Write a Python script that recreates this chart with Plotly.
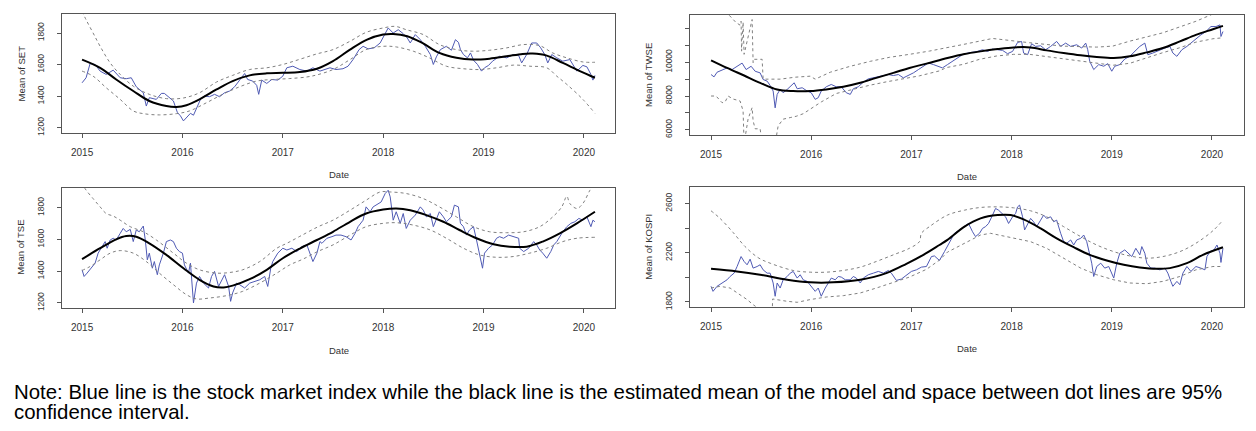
import plotly.graph_objects as go

# ---------------- data (decimal year, value) ----------------
set_index = [(2015.00,1485),(2015.04,1517),(2015.08,1607),(2015.13,1601),(2015.18,1559),(2015.24,1538),(2015.31,1565),(2015.38,1517),(2015.44,1511),(2015.49,1517),(2015.54,1460),(2015.61,1422),(2015.64,1338),(2015.67,1391),(2015.74,1380),(2015.79,1418),(2015.82,1418),(2015.87,1391),(2015.91,1370),(2015.95,1297),(2015.98,1276),(2016.01,1244),(2016.05,1271),(2016.08,1292),(2016.11,1280),(2016.15,1338),(2016.18,1380),(2016.22,1401),(2016.27,1397),(2016.32,1412),(2016.37,1397),(2016.42,1422),(2016.47,1433),(2016.52,1460),(2016.57,1502),(2016.62,1544),(2016.65,1506),(2016.70,1496),(2016.74,1469),(2016.76,1412),(2016.79,1502),(2016.84,1481),(2016.89,1506),(2016.95,1502),(2017.00,1527),(2017.04,1580),(2017.10,1590),(2017.17,1569),(2017.24,1559),(2017.30,1580),(2017.37,1559),(2017.40,1565),(2017.47,1580),(2017.53,1569),(2017.60,1574),(2017.65,1590),(2017.70,1632),(2017.76,1695),(2017.80,1716),(2017.85,1700),(2017.91,1706),(2017.97,1737),(2018.02,1800),(2018.05,1832),(2018.10,1800),(2018.15,1821),(2018.20,1796),(2018.24,1769),(2018.27,1737),(2018.32,1790),(2018.37,1758),(2018.42,1716),(2018.47,1664),(2018.50,1601),(2018.53,1649),(2018.57,1695),(2018.63,1716),(2018.68,1691),(2018.72,1758),(2018.75,1741),(2018.77,1695),(2018.80,1664),(2018.84,1643),(2018.87,1674),(2018.90,1628),(2018.94,1601),(2018.98,1559),(2019.01,1580),(2019.05,1595),(2019.09,1622),(2019.16,1653),(2019.23,1643),(2019.30,1664),(2019.35,1658),(2019.38,1611),(2019.43,1664),(2019.48,1737),(2019.53,1737),(2019.57,1706),(2019.61,1664),(2019.64,1611),(2019.68,1664),(2019.73,1643),(2019.79,1622),(2019.86,1632),(2019.93,1559),(2019.99,1595),(2020.03,1586),(2020.07,1538),(2020.09,1502),(2020.11,1532)]
set_mean = [(2015.00,1632),(2015.18,1580),(2015.34,1506),(2015.51,1433),(2015.67,1370),(2015.84,1338),(2015.94,1332),(2016.04,1343),(2016.17,1380),(2016.34,1443),(2016.50,1496),(2016.67,1532),(2016.84,1545),(2017.00,1548),(2017.17,1553),(2017.34,1574),(2017.50,1622),(2017.67,1695),(2017.84,1758),(2018.00,1790),(2018.10,1794),(2018.24,1780),(2018.39,1737),(2018.56,1674),(2018.73,1643),(2018.89,1632),(2019.06,1638),(2019.23,1653),(2019.39,1668),(2019.49,1670),(2019.63,1657),(2019.79,1611),(2019.96,1559),(2020.11,1517)]
set_upper = [(2015.00,1937),(2015.04,1884),(2015.11,1800),(2015.18,1716),(2015.28,1611),(2015.38,1538),(2015.51,1464),(2015.67,1412),(2015.84,1385),(2016.01,1389),(2016.17,1422),(2016.34,1490),(2016.50,1532),(2016.67,1569),(2016.84,1580),(2017.00,1601),(2017.17,1634),(2017.34,1668),(2017.50,1695),(2017.67,1748),(2017.83,1804),(2018.00,1832),(2018.12,1842),(2018.23,1821),(2018.40,1790),(2018.56,1727),(2018.73,1695),(2018.89,1685),(2019.06,1691),(2019.23,1706),(2019.40,1727),(2019.56,1720),(2019.69,1674),(2019.83,1643),(2019.99,1617),(2020.11,1615)]
set_lower = [(2015.00,1559),(2015.11,1527),(2015.24,1454),(2015.38,1380),(2015.51,1307),(2015.61,1290),(2015.77,1282),(2015.94,1290),(2016.07,1307),(2016.24,1359),(2016.40,1412),(2016.57,1460),(2016.74,1496),(2016.90,1506),(2017.07,1512),(2017.24,1522),(2017.34,1535),(2017.50,1569),(2017.67,1632),(2017.83,1695),(2018.00,1716),(2018.13,1712),(2018.30,1685),(2018.46,1643),(2018.63,1590),(2018.80,1574),(2018.96,1569),(2019.13,1580),(2019.30,1597),(2019.46,1590),(2019.63,1580),(2019.73,1527),(2019.83,1475),(2019.99,1380),(2020.11,1292)]

twse_index = [(2015.00,9273),(2015.03,9136),(2015.06,9410),(2015.11,9528),(2015.16,9665),(2015.21,9567),(2015.26,9763),(2015.31,9950),(2015.35,9567),(2015.40,9763),(2015.44,9469),(2015.49,9371),(2015.52,8979),(2015.56,8881),(2015.59,8626),(2015.62,8293),(2015.64,7300),(2015.66,8097),(2015.69,8391),(2015.72,8195),(2015.76,8391),(2015.80,8626),(2015.83,8783),(2015.86,8430),(2015.91,8489),(2015.96,8293),(2016.00,8195),(2016.04,7803),(2016.07,7901),(2016.10,8293),(2016.15,8548),(2016.20,8685),(2016.25,8548),(2016.30,8548),(2016.35,8195),(2016.39,8097),(2016.42,8430),(2016.47,8548),(2016.52,8822),(2016.57,9018),(2016.62,9077),(2016.67,9136),(2016.72,9175),(2016.77,9273),(2016.82,9214),(2016.87,9273),(2016.92,9077),(2016.97,9214),(2017.02,9371),(2017.07,9567),(2017.12,9763),(2017.17,9959),(2017.22,9861),(2017.27,9763),(2017.31,9665),(2017.36,9861),(2017.41,10057),(2017.46,10253),(2017.51,10449),(2017.56,10547),(2017.61,10586),(2017.66,10645),(2017.71,10743),(2017.76,10645),(2017.81,10782),(2017.86,10743),(2017.91,10704),(2017.96,10508),(2018.01,10645),(2018.06,11174),(2018.10,11233),(2018.12,10547),(2018.16,10449),(2018.20,11096),(2018.24,10939),(2018.29,10978),(2018.34,10743),(2018.39,10939),(2018.45,11233),(2018.49,10939),(2018.54,11135),(2018.59,10939),(2018.65,11037),(2018.70,10841),(2018.74,11135),(2018.76,10743),(2018.78,10057),(2018.82,9567),(2018.87,9861),(2018.92,9763),(2018.96,9920),(2019.00,9469),(2019.03,9763),(2019.08,9861),(2019.13,10194),(2019.18,10351),(2019.23,10645),(2019.28,10939),(2019.33,11135),(2019.36,10449),(2019.41,10547),(2019.48,10743),(2019.53,10841),(2019.58,10939),(2019.61,10547),(2019.65,10351),(2019.70,10743),(2019.75,10939),(2019.79,11135),(2019.84,11429),(2019.89,11625),(2019.94,11821),(2019.99,12115),(2020.04,12115),(2020.08,12213),(2020.09,11527),(2020.11,11821)]
twse_mean = [(2015.00,10116),(2015.16,9665),(2015.33,9214),(2015.49,8783),(2015.66,8391),(2015.82,8293),(2015.99,8293),(2016.15,8391),(2016.32,8548),(2016.49,8783),(2016.65,9077),(2016.82,9371),(2016.98,9665),(2017.15,9920),(2017.36,10253),(2017.53,10488),(2017.69,10645),(2017.86,10782),(2018.02,10880),(2018.19,10880),(2018.35,10704),(2018.52,10547),(2018.69,10410),(2018.85,10312),(2019.02,10253),(2019.18,10351),(2019.35,10586),(2019.51,10841),(2019.68,11233),(2019.84,11625),(2020.01,11958),(2020.11,12154)]
twse_upper = [(2015.10,13300),(2015.25,12350),(2015.29,12200),(2015.30,12430),(2015.305,10660),(2015.32,12370),(2015.33,10470),(2015.41,12530),(2015.42,9980),(2015.43,10175),(2015.51,10175),(2015.52,9000),(2015.69,9000),(2015.84,9116),(2015.99,9175),(2016.04,9000),(2016.19,9410),(2016.39,9763),(2016.59,10057),(2016.78,10292),(2016.98,10469),(2017.18,10663),(2017.52,11057),(2017.81,11410),(2018.18,11157),(2018.51,10957),(2018.85,10898),(2019.01,10957),(2019.18,11251),(2019.51,11745),(2019.84,12427),(2020.01,12821),(2020.11,13115)]
twse_lower = [(2015.00,8000),(2015.05,8000),(2015.11,7605),(2015.14,7646),(2015.17,8000),(2015.22,7823),(2015.29,7705),(2015.32,7117),(2015.33,5176),(2015.37,6647),(2015.41,7311),(2015.42,6529),(2015.44,6059),(2015.49,6059),(2015.51,5176),(2015.64,5176),(2015.67,6235),(2015.72,6629),(2015.79,6723),(2015.85,6800),(2015.92,6950),(2016.00,7250),(2016.05,7420),(2016.10,7650),(2016.25,8150),(2016.42,8411),(2016.59,8646),(2016.75,8840),(2016.92,9000),(2017.08,9195),(2017.28,9489),(2017.35,9686),(2017.52,9880),(2017.68,10175),(2017.85,10371),(2018.02,10469),(2018.18,10469),(2018.35,10333),(2018.51,10214),(2018.68,10076),(2018.85,9939),(2019.01,9821),(2019.18,9939),(2019.35,10274),(2019.51,10569),(2019.68,10863),(2019.84,11192),(2020.01,11392),(2020.11,11451)]

tse_index = [(2015.00,1409),(2015.02,1367),(2015.05,1388),(2015.09,1419),(2015.13,1451),(2015.16,1514),(2015.19,1545),(2015.23,1587),(2015.25,1545),(2015.28,1597),(2015.31,1608),(2015.34,1597),(2015.38,1639),(2015.41,1670),(2015.44,1649),(2015.48,1664),(2015.51,1587),(2015.54,1660),(2015.57,1649),(2015.61,1685),(2015.63,1597),(2015.65,1472),(2015.67,1514),(2015.70,1419),(2015.72,1461),(2015.75,1378),(2015.77,1440),(2015.81,1514),(2015.84,1587),(2015.88,1597),(2015.91,1587),(2015.94,1545),(2015.97,1524),(2016.00,1514),(2016.02,1440),(2016.06,1388),(2016.08,1451),(2016.11,1200),(2016.14,1325),(2016.17,1367),(2016.21,1325),(2016.26,1294),(2016.29,1367),(2016.32,1399),(2016.36,1304),(2016.39,1346),(2016.42,1378),(2016.46,1304),(2016.48,1210),(2016.50,1263),(2016.54,1325),(2016.57,1315),(2016.62,1294),(2016.67,1325),(2016.72,1336),(2016.77,1346),(2016.82,1367),(2016.85,1304),(2016.88,1419),(2016.90,1461),(2016.95,1514),(2017.00,1545),(2017.04,1534),(2017.09,1545),(2017.14,1524),(2017.19,1555),(2017.24,1566),(2017.28,1493),(2017.30,1461),(2017.34,1514),(2017.37,1587),(2017.39,1576),(2017.44,1608),(2017.49,1618),(2017.53,1628),(2017.58,1628),(2017.63,1618),(2017.68,1597),(2017.72,1639),(2017.75,1681),(2017.80,1722),(2017.83,1806),(2017.87,1775),(2017.90,1806),(2017.95,1827),(2017.98,1837),(2018.02,1890),(2018.05,1911),(2018.07,1869),(2018.10,1722),(2018.13,1775),(2018.17,1702),(2018.20,1764),(2018.23,1670),(2018.27,1722),(2018.32,1754),(2018.37,1806),(2018.40,1785),(2018.43,1743),(2018.47,1764),(2018.50,1681),(2018.53,1733),(2018.56,1775),(2018.60,1743),(2018.63,1712),(2018.68,1743),(2018.71,1817),(2018.75,1806),(2018.77,1702),(2018.80,1681),(2018.83,1628),(2018.86,1660),(2018.90,1681),(2018.93,1597),(2018.96,1503),(2018.99,1419),(2019.01,1514),(2019.05,1545),(2019.09,1566),(2019.13,1608),(2019.16,1618),(2019.20,1608),(2019.25,1628),(2019.30,1618),(2019.35,1608),(2019.36,1545),(2019.40,1524),(2019.45,1545),(2019.50,1587),(2019.53,1566),(2019.56,1534),(2019.59,1514),(2019.63,1482),(2019.67,1524),(2019.70,1566),(2019.73,1587),(2019.76,1618),(2019.79,1649),(2019.83,1681),(2019.87,1702),(2019.91,1712),(2019.95,1733),(2019.99,1722),(2020.03,1743),(2020.07,1681),(2020.09,1722),(2020.11,1712)]
tse_mean = [(2015.00,1476),(2015.18,1545),(2015.34,1601),(2015.44,1622),(2015.54,1618),(2015.67,1576),(2015.84,1503),(2016.01,1419),(2016.17,1346),(2016.31,1304),(2016.41,1298),(2016.50,1309),(2016.67,1350),(2016.84,1409),(2017.00,1482),(2017.17,1543),(2017.34,1597),(2017.50,1649),(2017.67,1712),(2017.83,1764),(2018.00,1789),(2018.13,1796),(2018.27,1785),(2018.43,1754),(2018.60,1712),(2018.76,1660),(2018.93,1608),(2019.10,1570),(2019.26,1555),(2019.43,1555),(2019.59,1587),(2019.76,1639),(2019.93,1702),(2020.11,1775)]
tse_upper = [(2015.00,1960),(2015.03,1921),(2015.11,1858),(2015.18,1806),(2015.24,1764),(2015.31,1748),(2015.38,1722),(2015.48,1681),(2015.61,1649),(2015.74,1597),(2015.91,1514),(2016.04,1451),(2016.17,1409),(2016.34,1388),(2016.47,1392),(2016.60,1409),(2016.77,1461),(2016.94,1545),(2017.04,1576),(2017.17,1620),(2017.35,1680),(2017.50,1722),(2017.67,1785),(2017.83,1848),(2017.97,1900),(2018.07,1900),(2018.23,1890),(2018.40,1858),(2018.56,1806),(2018.73,1743),(2018.90,1681),(2019.06,1649),(2019.23,1643),(2019.40,1649),(2019.56,1681),(2019.69,1743),(2019.78,1806),(2019.83,1873),(2019.86,1827),(2019.93,1796),(2019.99,1827),(2020.06,1911),(2020.11,1960)]
tse_lower = [(2015.00,1405),(2015.08,1430),(2015.18,1472),(2015.28,1514),(2015.38,1530),(2015.51,1514),(2015.64,1461),(2015.77,1388),(2015.91,1315),(2016.04,1252),(2016.14,1225),(2016.27,1231),(2016.44,1246),(2016.60,1273),(2016.77,1325),(2016.94,1388),(2017.07,1440),(2017.20,1476),(2017.35,1525),(2017.50,1566),(2017.67,1628),(2017.83,1681),(2018.00,1702),(2018.13,1706),(2018.30,1691),(2018.47,1660),(2018.63,1608),(2018.80,1545),(2018.96,1503),(2019.13,1488),(2019.30,1493),(2019.46,1514),(2019.63,1545),(2019.79,1587),(2019.93,1608),(2020.11,1614)]

kospi_index = [(2015.00,1927),(2015.02,1886),(2015.06,1927),(2015.11,1954),(2015.16,1980),(2015.19,2007),(2015.23,2034),(2015.26,2088),(2015.30,2169),(2015.33,2129),(2015.36,2102),(2015.39,2148),(2015.42,2075),(2015.46,2088),(2015.49,2102),(2015.52,2061),(2015.56,2034),(2015.59,2034),(2015.62,1954),(2015.64,1846),(2015.66,1954),(2015.69,1913),(2015.72,1980),(2015.76,2007),(2015.79,2034),(2015.82,2048),(2015.86,1994),(2015.89,2021),(2015.92,1980),(2015.96,1967),(2016.00,1927),(2016.04,1886),(2016.07,1913),(2016.10,1846),(2016.14,1913),(2016.17,1954),(2016.20,1994),(2016.24,1980),(2016.27,2007),(2016.30,2002),(2016.34,1980),(2016.39,1980),(2016.42,2007),(2016.45,1994),(2016.49,1954),(2016.52,1994),(2016.57,2021),(2016.62,2034),(2016.67,2048),(2016.72,2034),(2016.77,2056),(2016.80,2034),(2016.85,1975),(2016.90,1986),(2016.95,2021),(2017.00,2048),(2017.05,2061),(2017.10,2083),(2017.15,2088),(2017.20,2169),(2017.23,2174),(2017.28,2137),(2017.33,2209),(2017.38,2290),(2017.43,2358),(2017.48,2385),(2017.53,2412),(2017.57,2438),(2017.61,2371),(2017.64,2331),(2017.68,2358),(2017.71,2398),(2017.74,2412),(2017.77,2438),(2017.81,2506),(2017.84,2560),(2017.87,2546),(2017.91,2519),(2017.94,2492),(2017.97,2438),(2018.01,2492),(2018.04,2519),(2018.06,2573),(2018.08,2587),(2018.11,2492),(2018.13,2385),(2018.16,2438),(2018.19,2479),(2018.22,2452),(2018.25,2412),(2018.29,2465),(2018.32,2506),(2018.35,2479),(2018.39,2492),(2018.42,2452),(2018.45,2465),(2018.49,2358),(2018.52,2290),(2018.55,2277),(2018.59,2304),(2018.62,2263),(2018.65,2304),(2018.69,2317),(2018.72,2344),(2018.75,2290),(2018.78,2183),(2018.80,2115),(2018.82,2007),(2018.85,2088),(2018.89,2115),(2018.93,2075),(2018.97,2088),(2019.00,2034),(2019.02,1994),(2019.05,2115),(2019.08,2196),(2019.13,2223),(2019.17,2196),(2019.20,2169),(2019.24,2236),(2019.28,2183),(2019.30,2250),(2019.33,2196),(2019.35,2115),(2019.39,2075),(2019.43,2075),(2019.48,2061),(2019.53,2075),(2019.56,2034),(2019.59,1967),(2019.61,1927),(2019.65,1967),(2019.68,1940),(2019.71,2034),(2019.75,2088),(2019.79,2048),(2019.84,2088),(2019.89,2075),(2019.93,2061),(2019.95,2169),(2019.98,2209),(2020.02,2223),(2020.05,2263),(2020.08,2196),(2020.09,2121),(2020.11,2236)]
kospi_mean = [(2015.00,2069),(2015.26,2048),(2015.49,2021),(2015.76,1980),(2015.99,1959),(2016.22,1959),(2016.49,1980),(2016.75,2034),(2016.95,2110),(2017.12,2183),(2017.28,2263),(2017.36,2304),(2017.53,2412),(2017.69,2479),(2017.86,2506),(2017.99,2506),(2018.12,2471),(2018.29,2398),(2018.45,2317),(2018.62,2245),(2018.78,2183),(2018.95,2137),(2019.12,2102),(2019.28,2080),(2019.45,2069),(2019.58,2075),(2019.75,2115),(2019.91,2183),(2020.11,2245)]
kospi_upper = [(2015.00,2541),(2015.09,2479),(2015.22,2365),(2015.34,2250),(2015.47,2160),(2015.59,2115),(2015.82,2056),(2015.99,2042),(2016.15,2042),(2016.32,2056),(2016.49,2083),(2016.65,2129),(2016.82,2183),(2016.98,2236),(2017.08,2290),(2017.10,2358),(2017.18,2412),(2017.36,2506),(2017.53,2546),(2017.69,2568),(2017.86,2573),(2018.02,2565),(2018.19,2541),(2018.35,2492),(2018.52,2412),(2018.69,2331),(2018.85,2263),(2019.02,2209),(2019.18,2174),(2019.35,2156),(2019.51,2169),(2019.68,2209),(2019.84,2277),(2020.01,2379),(2020.11,2465)]
kospi_lower = [(2015.00,1913),(2015.09,1927),(2015.19,1913),(2015.29,1859),(2015.36,1819),(2015.42,1778),(2015.49,1738),(2015.55,1700),(2015.61,1700),(2015.615,1824),(2015.76,1805),(2015.86,1797),(2015.99,1819),(2016.15,1840),(2016.32,1851),(2016.49,1873),(2016.65,1913),(2016.82,1959),(2016.98,2002),(2017.15,2065),(2017.28,2140),(2017.36,2205),(2017.53,2277),(2017.69,2344),(2017.79,2358),(2018.02,2317),(2018.19,2290),(2018.35,2236),(2018.52,2156),(2018.69,2075),(2018.85,2021),(2019.02,1980),(2019.18,1954),(2019.35,1948),(2019.51,1967),(2019.68,2007),(2019.84,2061),(2020.01,2088),(2020.11,2088)]

year_ticks = [2015, 2016, 2017, 2018, 2019, 2020]
note_line1 = "Note: Blue line is the stock market index while the black line is the estimated mean of the model and space between dot lines are 95%"
note_line2 = "confidence interval."

# ---------------- layout helpers ----------------
W, H = 1256, 431
FONT = "Arial, Liberation Sans, sans-serif"
BLUE = "#4f5ab4"
GREY = "#808080"
AXC = "#555555"
TXT = "#333333"

panels = [
    dict(name="SET", idx=set_index, mean=set_mean, up=set_upper, lo=set_lower,
         box=(62, 615, 14, 134), xr=[2014.80, 2020.31], yr=[1167, 1921],
         yt=[1200, 1400, 1600, 1800], ytl=["1200", "1400", "1600", "1800"],
         date_y=176, ylab_x=21, up_lin=False, lo_lin=False),
    dict(name="TWSE", idx=twse_index, mean=twse_mean, up=twse_upper, lo=twse_lower,
         box=(690, 1244, 15, 136), xr=[2014.79, 2020.32], yr=[5688, 12806],
         yt=[6000, 7000, 8000, 9000, 10000, 11000, 12000],
         ytl=["6000", "", "8000", "", "10000", "", ""],
         date_y=178, ylab_x=649, up_lin=True, lo_lin=True),
    dict(name="TSE", idx=tse_index, mean=tse_mean, up=tse_upper, lo=tse_lower,
         box=(62, 615, 189, 310), xr=[2014.80, 2020.31], yr=[1169, 1927],
         yt=[1200, 1400, 1600, 1800], ytl=["1200", "1400", "1600", "1800"],
         date_y=353, ylab_x=21, up_lin=False, lo_lin=False),
    dict(name="KOSPI", idx=kospi_index, mean=kospi_mean, up=kospi_upper, lo=kospi_lower,
         box=(690, 1244, 188, 309), xr=[2014.79, 2020.32], yr=[1760, 2737],
         yt=[1800, 2000, 2200, 2400, 2600], ytl=["1800", "", "2200", "", "2600"],
         date_y=351, ylab_x=649, up_lin=False, lo_lin=True),
]

fig = go.Figure()
annotations = []
layout = {}

for i, p in enumerate(panels):
    n = "" if i == 0 else str(i + 1)
    xa, ya = "x" + n, "y" + n
    l, r, t, b = p["box"]

    def add(series, color, width, dash=None, shape="linear"):
        xs = [a for a, _ in series]
        ys = [v for _, v in series]
        line = dict(color=color, width=width, shape=shape)
        if dash:
            line["dash"] = dash
        fig.add_trace(go.Scatter(x=xs, y=ys, mode="lines", line=line,
                                 xaxis=xa, yaxis=ya, showlegend=False,
                                 hoverinfo="skip", cliponaxis=True))

    add(p["idx"], BLUE, 1)
    add(p["up"], GREY, 1, "3px,3px", "linear" if p["up_lin"] else "spline")
    add(p["lo"], GREY, 1, "3px,3px", "linear" if p["lo_lin"] else "spline")
    add(p["mean"], "black", 2, None, "spline")

    layout["xaxis" + n] = dict(
        domain=[l / W, r / W], anchor=ya, range=p["xr"],
        tickvals=year_ticks, ticktext=[str(v) for v in year_ticks],
        showline=True, mirror=True, linecolor=AXC, linewidth=1,
        ticks="outside", ticklen=4, tickcolor=AXC, tickwidth=1,
        showgrid=False, zeroline=False,
        tickfont=dict(family=FONT, size=10, color=TXT), ticklabelstandoff=6,
    )
    layout["yaxis" + n] = dict(
        domain=[1 - b / H, 1 - t / H], anchor=xa, range=p["yr"],
        tickvals=p["yt"], ticktext=p["ytl"], tickangle=-90,
        showline=True, mirror=True, linecolor=AXC, linewidth=1,
        ticks="outside", ticklen=4, tickcolor=AXC, tickwidth=1,
        showgrid=False, zeroline=False,
        tickfont=dict(family=FONT, size=8.5, color=TXT), ticklabelstandoff=10,
    )
    annotations.append(dict(text="Date", x=(l + r) / 2 / W, y=1 - p["date_y"] / H,
                            xref="paper", yref="paper", showarrow=False,
                            xanchor="center", yanchor="middle",
                            font=dict(family=FONT, size=9.5, color=TXT)))
    annotations.append(dict(text="Mean of " + p["name"], x=p["ylab_x"] / W,
                            y=1 - (t + b) / 2 / H, xref="paper", yref="paper",
                            showarrow=False, textangle=-90,
                            xanchor="center", yanchor="middle",
                            font=dict(family=FONT, size=9.5, color=TXT)))

annotations.append(dict(text=note_line1, x=12 / W, y=1 - 395 / H, xref="paper", yref="paper",
                        showarrow=False, xanchor="left", yanchor="middle",
                        font=dict(family=FONT, size=20.4, color="black")))
annotations.append(dict(text=note_line2, x=12 / W, y=1 - 415 / H, xref="paper", yref="paper",
                        showarrow=False, xanchor="left", yanchor="middle",
                        font=dict(family=FONT, size=20.4, color="black")))

fig.update_layout(
    width=W, height=H, margin=dict(l=0, r=0, t=0, b=0),
    paper_bgcolor="white", plot_bgcolor="white",
    annotations=annotations, **layout,
)

fig.write_html("out.html", config={"displayModeBar": False},
               post_script="document.body.style.margin='0';")
